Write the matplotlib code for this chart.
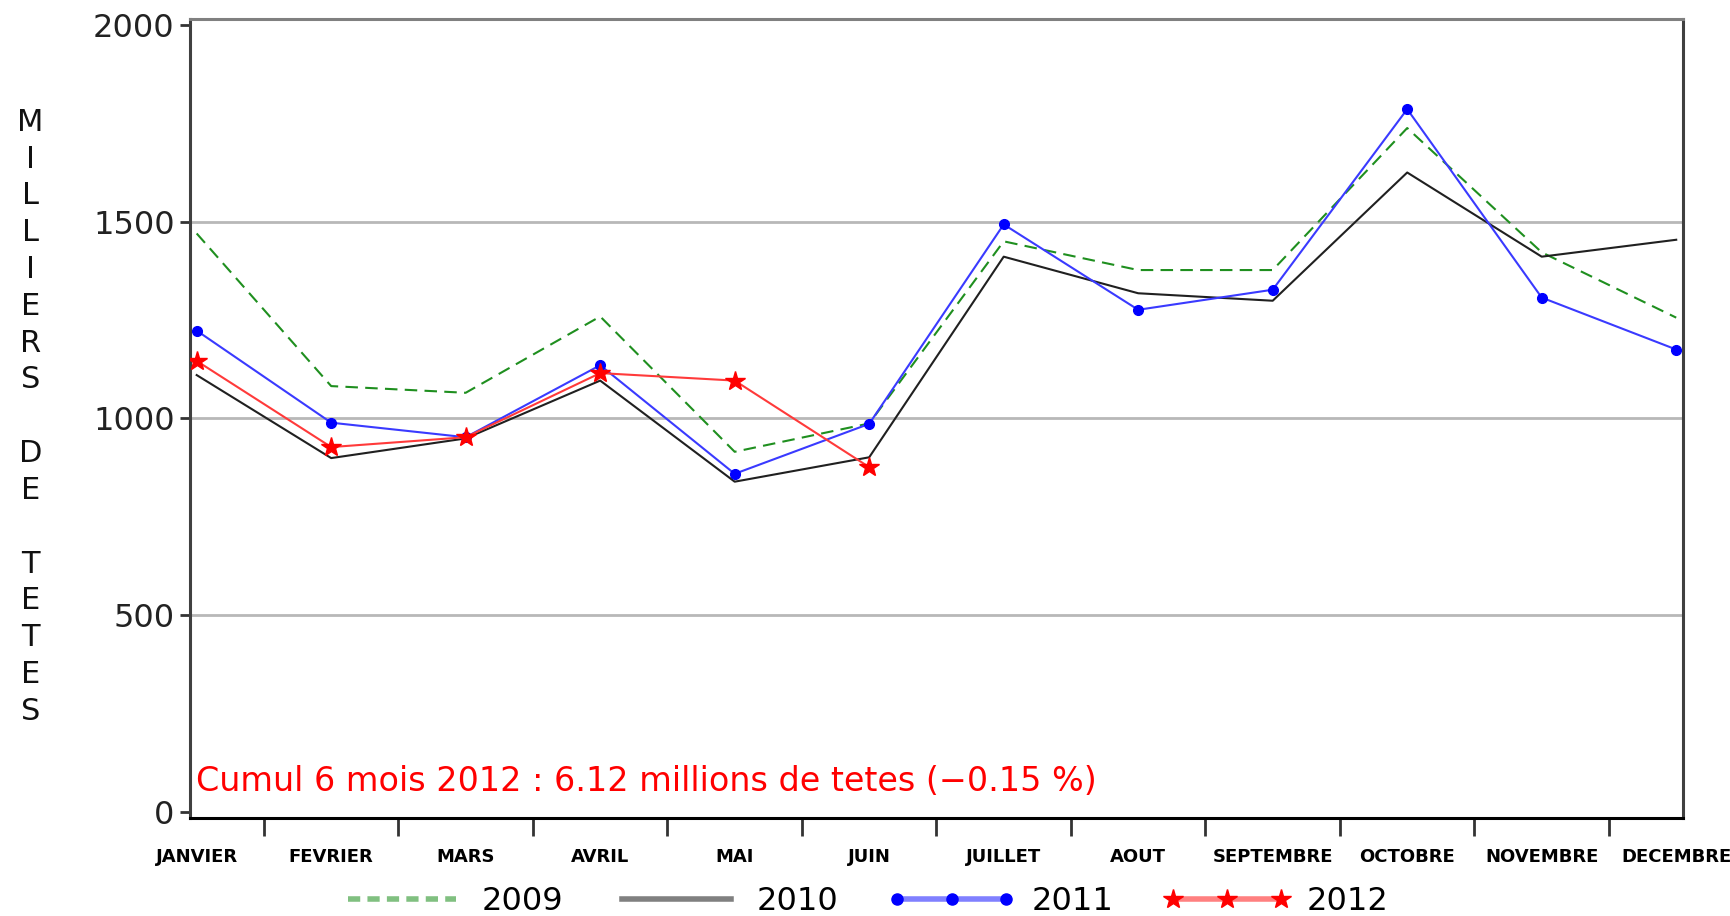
# Monthly slaughter volumes (milliers de tetes), 2009-2012
import numpy as np
import matplotlib
matplotlib.use('Agg')
import matplotlib.pyplot as plt
from matplotlib.lines import Line2D

months = ['JANVIER', 'FEVRIER', 'MARS', 'AVRIL', 'MAI', 'JUIN', 'JUILLET',
          'AOUT', 'SEPTEMBRE', 'OCTOBRE', 'NOVEMBRE', 'DECEMBRE']

y2009 = [1470, 1082, 1065, 1259, 915, 987, 1450, 1377, 1377, 1738, 1422, 1256]
y2010 = [1110, 899, 949, 1096, 839, 901, 1411, 1318, 1299, 1625, 1411, 1454]
y2011 = [1223, 989, 952, 1135, 859, 986, 1493, 1276, 1327, 1786, 1307, 1175]
y2012 = [1146, 927, 952, 1115, 1096, 876]

yticks = [0, 500, 1000, 1500, 2000]
ylabel = 'MILLIERS DE TETES'
note = 'Cumul 6 mois 2012 : 6.12 millions de tetes (\u22120.15 %)'

x = np.arange(len(months))

fig = plt.figure(figsize=(17.3, 9.16), dpi=100)
ax = fig.add_axes([0.1098, 0.1074, 0.863, 0.8722])

# grid lines
for v in yticks[1:-1]:
    ax.axhline(v, color='#b8b8b8', lw=2, zorder=0)

ax.plot(x, y2009, color='#1f8f1f', lw=1.5, dashes=(6, 3.5), zorder=2)
ax.plot(x, y2010, color='#202020', lw=1.5, zorder=2)
ax.plot(x, y2011, color='#3a3aff', lw=1.5, marker='o', ms=7,
        mfc='blue', mec='blue', zorder=3)
ax.plot(x[:len(y2012)], y2012, color='#ff3a3a', lw=1.5, marker='*', ms=15,
        mfc='red', mec='red', zorder=4)

ax.set_xlim(-0.05, 11.05)
ax.set_ylim(-15, 2016)

# y axis
ax.set_yticks(yticks)
ax.set_yticklabels([str(v) for v in yticks], fontsize=23, color='#222222')
ax.tick_params(axis='y', length=7, width=2, pad=4, color='#333333')

# x axis: labels on months, tick marks between months
ax.set_xticks(x)
ax.set_xticklabels(months, fontsize=13, fontfamily='Liberation Sans Narrow',
                   fontweight='bold')
ax.tick_params(axis='x', which='major', length=0, pad=22)
ax.set_xticks(x[:-1] + 0.5, minor=True)
ax.tick_params(axis='x', which='minor', length=13, width=2, color='#333333')

for side, col in [('left', '#404040'), ('bottom', 'black'),
                  ('right', '#404040'), ('top', '#808080')]:
    ax.spines[side].set_color(col)
    ax.spines[side].set_linewidth(2.2)

fig.text(0.0175, 0.545, '\n'.join(ylabel), fontsize=22, ha='center',
         va='center', linespacing=1.34, color='#111111')

ax.text(0.004, 0.045, note, transform=ax.transAxes, color='red',
        fontsize=24, ha='left', va='center')

handles = [
    Line2D([], [], color='#80c080', lw=4, dashes=(2.2, 1.3)),
    Line2D([], [], color='#808080', lw=4),
    Line2D([], [], color='#8080ff', lw=4, marker='o', ms=8, mfc='blue',
           mec='blue'),
    Line2D([], [], color='#ff8080', lw=4, marker='*', ms=15, mfc='red',
           mec='red'),
]
fig.legend(handles, ['2009', '2010', '2011', '2012'], loc='center',
           bbox_to_anchor=(0.499, 0.016), ncol=4, frameon=False, fontsize=23,
           handlelength=4, handletextpad=0.5, columnspacing=1.55, numpoints=3,
           borderpad=0)

fig.savefig('out.png', dpi=100)
